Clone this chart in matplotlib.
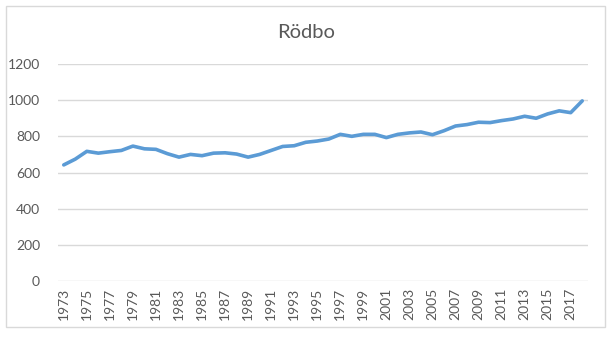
import matplotlib
matplotlib.use("Agg")
import matplotlib.pyplot as plt
from matplotlib.patches import Rectangle

# data
years = list(range(1973, 2019))
values = [642, 674, 717, 707, 715, 722, 746, 731, 728, 704,
          685, 700, 693, 707, 709, 702, 685, 700, 722, 744,
          748, 767, 774, 785, 811, 800, 811, 811, 793, 811,
          819, 824, 809, 831, 857, 865, 878, 876, 887, 896,
          911, 900, 924, 941, 931, 996]
tick_years = list(range(1973, 2019, 2))
title = "Rödbo"

plt.rcParams['font.family'] = ['Lato', 'DejaVu Sans']
grey = "#595959"
grid = "#d9d9d9"

fig = plt.figure(figsize=(6.16, 3.39), dpi=100)
fig.patches.append(Rectangle((6 / 616, 1 - 327 / 339), 599 / 616, 321 / 339,
                             transform=fig.transFigure, fill=False,
                             edgecolor=grid, linewidth=1))

ax = fig.add_axes([58 / 616, 1 - 281 / 339, 530 / 616, 217 / 339])
ax.plot(years, values, color="#5B9BD5", linewidth=2.6, solid_capstyle="round")
ax.set_xlim(1972.5, 2018.5)
ax.set_ylim(0, 1200)
ax.set_yticks(range(0, 1201, 200))
ax.set_xticks(tick_years)
ax.set_xticklabels([str(y) for y in tick_years], rotation=90)
ax.tick_params(length=0, colors=grey, labelsize=10)
ax.tick_params(axis='y', pad=13)
ax.tick_params(axis='x', pad=5)
ax.grid(axis='y', color=grid, linewidth=1)
ax.set_axisbelow(True)
for s in ax.spines.values():
    s.set_visible(False)

fig.text(306 / 616, 1 - 32 / 339, title, ha="center", va="center",
         fontsize=14.5, color=grey)

fig.savefig("out.png", dpi=100)
